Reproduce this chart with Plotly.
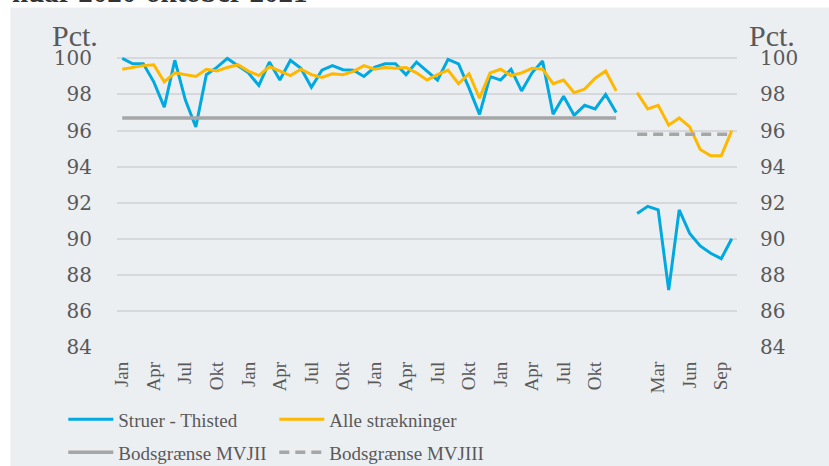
import plotly.graph_objects as go

# ---------------- data ----------------
months_da = ["Jan", "Feb", "Mar", "Apr", "Maj", "Jun", "Jul", "Aug", "Sep", "Okt", "Nov", "Dec"]
categories = months_da * 4 + [""] + months_da[:10]

struer_thisted = [100.0, 99.7, 99.7, 98.7, 97.3, 99.9, 97.7, 96.2, 99.1, 99.5, 100.0, 99.6,
                  99.2, 98.5, 99.8, 98.8, 99.9, 99.45, 98.4, 99.35, 99.6, 99.37, 99.35, 99.0,
                  99.5, 99.7, 99.7, 99.1, 99.8, 99.3, 98.8, 99.95, 99.7, 98.35, 96.9, 99.0,
                  98.8, 99.4, 98.2, 99.2, 99.85, 96.9, 97.9, 96.85, 97.4, 97.2, 98.0, 97.0,
                  None,
                  91.4, 91.8, 91.6, 87.15, 91.6, 90.3, 89.6, 89.2, 88.9, 90.0]
alle_straekninger = [99.4, 99.5, 99.6, 99.65, 98.7, 99.2, 99.1, 99.0, 99.4, 99.3, 99.5, 99.65,
                     99.3, 99.05, 99.55, 99.3, 99.05, 99.4, 99.1, 98.95, 99.15, 99.1, 99.28, 99.6,
                     99.4, 99.5, 99.45, 99.5, 99.2, 98.8, 99.1, 99.35, 98.6, 99.15, 97.8, 99.2,
                     99.4, 99.05, 99.2, 99.45, 99.4, 98.6, 98.8, 98.1, 98.3, 98.9, 99.3, 98.2,
                     None,
                     98.1, 97.2, 97.4, 96.3, 96.7, 96.2, 94.95, 94.6, 94.6, 96.0]
bods_mvjii = [96.7] * 48 + [None] * 11
bods_mvjiii = [None] * 49 + [95.8] * 10

y_ticks = [84, 86, 88, 90, 92, 94, 96, 98, 100]
x_idx = list(range(len(categories)))
tick_idx = list(range(0, len(categories), 3))
tick_text = [categories[i] for i in tick_idx]

# ---------------- style ----------------
W, H = 829, 466
L, R, T, B = 116.7, 92.3, 53.3, 119.3
plot_w = W - L - R
plot_h = H - T - B
y_range = [84, 100.3]

def px_x(px):
    return (px - L) / plot_w

def px_y(py):
    return (H - B - py) / plot_h

BLUE = "#00A9E0"
ORANGE = "#FFB800"
GRAY = "#A6A6A6"
PANEL = "#ECEFF2"
TXT = "#595959"
SERIF = "Liberation Serif, DejaVu Serif, serif"
TICKSERIF = "DejaVu Serif, Liberation Serif, serif"

fig = go.Figure()
fig.add_trace(go.Scatter(x=x_idx, y=struer_thisted, mode="lines", name="Struer - Thisted",
                         line=dict(color=BLUE, width=3), legend="legend"))
fig.add_trace(go.Scatter(x=x_idx, y=alle_straekninger, mode="lines", name="Alle strækninger",
                         line=dict(color=ORANGE, width=3), legend="legend"))
fig.add_trace(go.Scatter(x=x_idx, y=bods_mvjii, mode="lines", name="Bodsgrænse MVJII",
                         line=dict(color=GRAY, width=3.5), legend="legend2"))
fig.add_trace(go.Scatter(x=x_idx, y=bods_mvjiii, mode="lines", name="Bodsgrænse MVJIII",
                         line=dict(color=GRAY, width=3.5, dash="10px,6px"), legend="legend2"))
# invisible trace for the right-hand axis
fig.add_trace(go.Scatter(x=[0], y=[90], yaxis="y2", mode="lines", showlegend=False,
                         hoverinfo="skip", line=dict(width=0), opacity=0))

legend_common = dict(orientation="h", xanchor="left", yanchor="middle",
                     bgcolor="rgba(0,0,0,0)", font=dict(family=SERIF, size=19, color=TXT),
                     entrywidth=151, entrywidthmode="pixels", itemwidth=45,
                     traceorder="normal")

fig.update_layout(
    width=W, height=H,
    margin=dict(l=L, r=R, t=T, b=B, pad=0, autoexpand=False),
    paper_bgcolor="white",
    plot_bgcolor=PANEL,
    font=dict(family=SERIF, color=TXT),
    showlegend=True,
    xaxis=dict(range=[-0.5, len(categories) - 0.5], tickmode="array", tickvals=tick_idx,
               ticktext=tick_text, tickangle=-90, showgrid=False, zeroline=False,
               showline=False, ticks="", tickfont=dict(family=SERIF, size=19, color=TXT),
               ticklabelstandoff=10),
    yaxis=dict(range=y_range, tickmode="array", tickvals=y_ticks, showgrid=True,
               gridcolor="#D6D8DB", gridwidth=1.5, zeroline=False, showline=False, ticks="",
               tickfont=dict(family=TICKSERIF, size=20, color=TXT), ticklabelstandoff=24),
    yaxis2=dict(range=y_range, overlaying="y", side="right", tickmode="array", tickvals=y_ticks,
                showgrid=False, zeroline=False, showline=False, ticks="",
                tickfont=dict(family=TICKSERIF, size=20, color=TXT), ticklabelstandoff=22),
    legend=dict(x=px_x(63), y=px_y(419), **legend_common),
    legend2=dict(x=px_x(63), y=px_y(452), **legend_common),
    shapes=[dict(type="rect", xref="paper", yref="paper", x0=px_x(10), x1=px_x(W + 5),
                 y0=px_y(H + 5), y1=px_y(8), fillcolor=PANEL, line=dict(width=0), layer="below")],
    annotations=[
        dict(text="Pct.", xref="paper", yref="paper", x=px_x(100), y=px_y(36), xanchor="right",
             yanchor="middle", showarrow=False, font=dict(family=SERIF, size=30, color=TXT)),
        dict(text="Pct.", xref="paper", yref="paper", x=px_x(747), y=px_y(36), xanchor="left",
             yanchor="middle", showarrow=False, font=dict(family=SERIF, size=30, color=TXT)),
        dict(text="<b>nuar 2020-oktober 2021</b>", xref="paper", yref="paper", x=px_x(10),
             y=px_y(-7.5), xanchor="left", yanchor="middle", showarrow=False,
             font=dict(family=SERIF, size=29, color="#333333")),
    ],
)

fig.write_html("out.html", post_script="document.body.style.margin='0';",
               config={"displayModeBar": False})
